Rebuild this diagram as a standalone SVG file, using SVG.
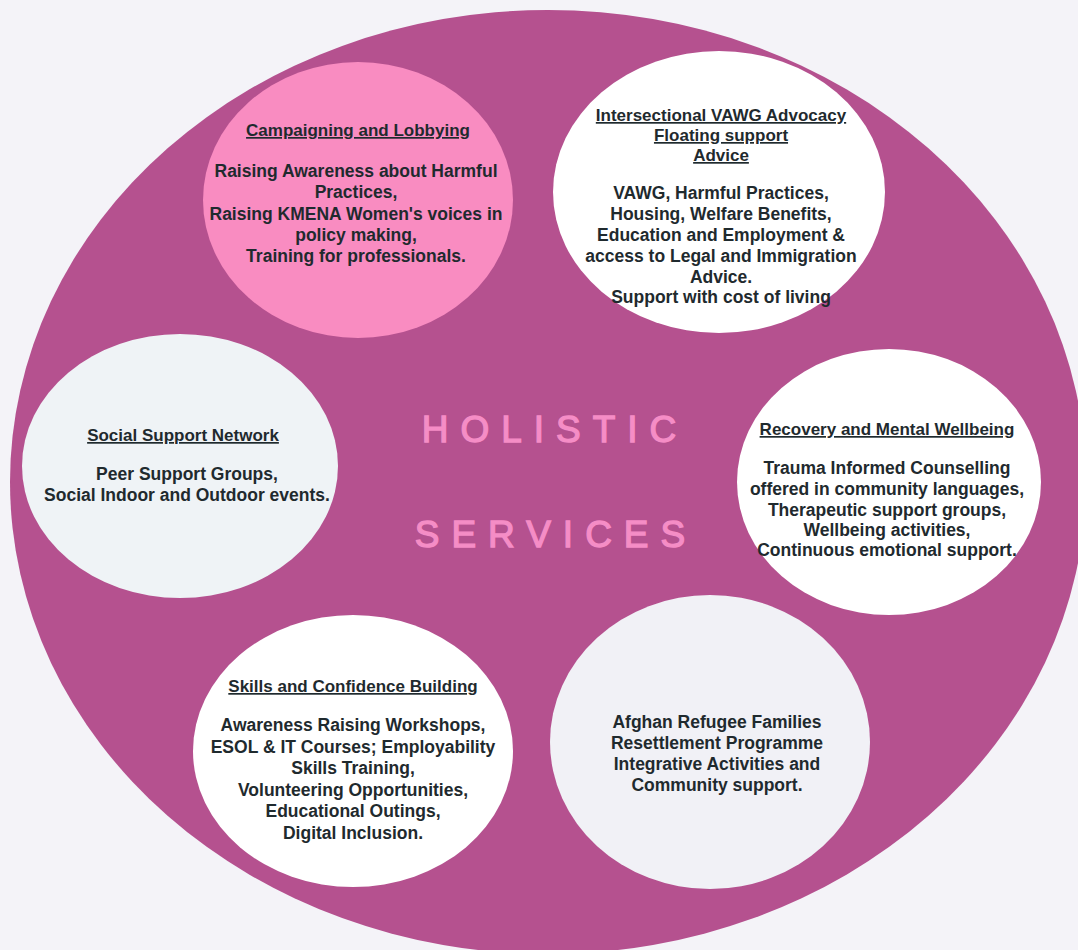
<svg xmlns="http://www.w3.org/2000/svg" width="1078" height="950" viewBox="0 0 1078 950">
<style>
.t{font-family:"Liberation Sans",Arial,sans-serif;font-weight:bold;fill:#1f2a2e;text-anchor:middle;font-size:17.5px}
.h{font-size:17px;text-decoration:underline}
.big{font-family:"Liberation Sans",Arial,sans-serif;font-weight:normal;fill:#f58dc6;stroke:#f58dc6;stroke-width:1.3px;text-anchor:middle;font-size:37px;letter-spacing:12px}
</style>
<rect width="1078" height="950" fill="#f4f3f8"/>
<ellipse id="outer" cx="548" cy="482" rx="538" ry="472" fill="#b5518f"/>
<g id="connectors"></g>
<g id="center">
<text class="big" x="555" y="442">HOLISTIC</text>
<text class="big" x="556" y="547">SERVICES</text>
</g>
<g id="campaigning">
<ellipse cx="358" cy="200" rx="155" ry="138" fill="#f98cc1"/>
<text class="t h" x="358" y="136">Campaigning and Lobbying</text>
<text class="t" x="356" y="177">Raising Awareness about Harmful</text>
<text class="t" x="356" y="198">Practices,</text>
<text class="t" x="356" y="220">Raising KMENA Women's voices in</text>
<text class="t" x="356" y="241">policy making,</text>
<text class="t" x="356" y="262">Training for professionals.</text>
</g>
<g id="advocacy">
<ellipse cx="719" cy="192" rx="166" ry="141" fill="#ffffff"/>
<text class="t h" x="721" y="121">Intersectional VAWG Advocacy</text>
<text class="t h" x="721" y="141">Floating support</text>
<text class="t h" x="721" y="161">Advice</text>
<text class="t" x="721" y="199">VAWG, Harmful Practices,</text>
<text class="t" x="721" y="220">Housing, Welfare Benefits,</text>
<text class="t" x="721" y="241">Education and Employment &amp;</text>
<text class="t" x="721" y="262">access to Legal and Immigration</text>
<text class="t" x="721" y="283">Advice.</text>
<text class="t" x="721" y="303">Support with cost of living</text>
</g>
<g id="social">
<ellipse cx="180" cy="466" rx="158" ry="132" fill="#eff3f6"/>
<text class="t h" x="183" y="441">Social Support Network</text>
<text class="t" x="187" y="480">Peer Support Groups,</text>
<text class="t" x="187" y="501">Social Indoor and Outdoor events.</text>
</g>
<g id="recovery">
<ellipse cx="889" cy="482" rx="152" ry="133" fill="#ffffff"/>
<text class="t h" x="887" y="435">Recovery and Mental Wellbeing</text>
<text class="t" x="887" y="474">Trauma Informed Counselling</text>
<text class="t" x="887" y="495">offered in community languages,</text>
<text class="t" x="887" y="516">Therapeutic support groups,</text>
<text class="t" x="887" y="536">Wellbeing activities,</text>
<text class="t" x="887" y="556">Continuous emotional support.</text>
</g>
<g id="skills">
<ellipse cx="353" cy="751" rx="160" ry="136" fill="#ffffff"/>
<text class="t h" x="353" y="692">Skills and Confidence Building</text>
<text class="t" x="353" y="731">Awareness Raising Workshops,</text>
<text class="t" x="353" y="753">ESOL &amp; IT Courses; Employability</text>
<text class="t" x="353" y="774">Skills Training,</text>
<text class="t" x="353" y="796">Volunteering Opportunities,</text>
<text class="t" x="353" y="817">Educational Outings,</text>
<text class="t" x="353" y="839">Digital Inclusion.</text>
</g>
<g id="afghan">
<ellipse cx="710" cy="742" rx="160" ry="147" fill="#f1f1f6"/>
<text class="t" x="717" y="728">Afghan Refugee Families</text>
<text class="t" x="717" y="749">Resettlement Programme</text>
<text class="t" x="717" y="770">Integrative Activities and</text>
<text class="t" x="717" y="791">Community support.</text>
</g>
</svg>
